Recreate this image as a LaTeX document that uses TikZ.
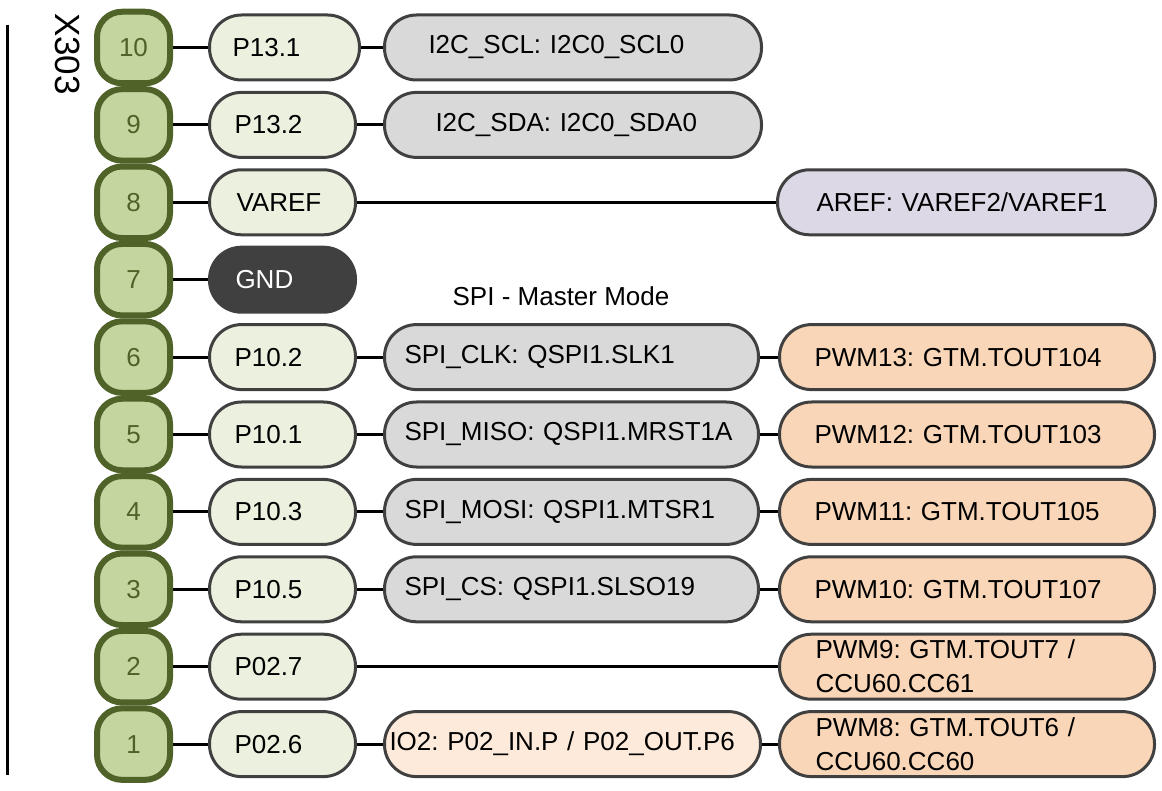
\documentclass[tikz,border=0pt]{standalone}
\usepackage{fontspec}
\setmainfont{Liberation Sans}
\frenchspacing
\definecolor{pinfill}{HTML}{C4D6A0}
\definecolor{pinedge}{HTML}{4F6228}
\definecolor{edgegray}{HTML}{404040}
\definecolor{pfill}{HTML}{EBF1DE}
\definecolor{grayfill}{HTML}{D9D9D9}
\definecolor{lavfill}{HTML}{DDD8E6}
\definecolor{pwmfill}{HTML}{FAD6B8}
\definecolor{iofill}{HTML}{FDEADA}
\definecolor{gndfill}{HTML}{404040}
\begin{document}
\begin{tikzpicture}[x=1pt,y=-1pt,
  txt/.style={font=\fontsize{26}{34}\selectfont\frenchspacing},
  pinbox/.style={draw=pinedge, fill=pinfill, line width=6pt, rounded corners=25pt,
    minimum width=73pt, minimum height=71.5pt, inner sep=0pt, text=pinedge, txt},
  pillbox/.style={draw=edgegray, line width=3pt, rounded corners=32pt, minimum height=65pt,
    inner xsep=0pt, inner ysep=0pt, align=left, anchor=west, txt},
  pbox/.style={pillbox, fill=pfill, text width=146pt},
  gbox/.style={pillbox, fill=grayfill, text width=377pt},
  abox/.style={pillbox, fill=lavfill, text width=378pt},
  wbox/.style={pillbox, fill=pwmfill, text width=375pt},
  ibox/.style={pillbox, fill=iofill, text width=376pt},
  gndbox/.style={pillbox, draw=gndfill, fill=gndfill, text=white, text width=146pt},
  conn/.style={draw=black, line width=3pt},
]
\useasboundingbox (0,0) rectangle (1162,791);

% left bar and connector label
\draw[line width=3pt] (7,25) -- (7,775);
\node[txt, font=\fontsize{35}{40}\selectfont, rotate=-90] (lbl) at (68,54) {X303};
\node[txt] (spi) at (561,296) {SPI - Master Mode};

% pins
\node[pinbox] (n10) at (133.5,47.5) {10};
\node[pinbox] (n9) at (133.5,124.9) {9};
\node[pinbox] (n8) at (133.5,202.3) {8};
\node[pinbox] (n7) at (133.5,279.7) {7};
\node[pinbox] (n6) at (133.5,357.1) {6};
\node[pinbox] (n5) at (133.5,434.5) {5};
\node[pinbox] (n4) at (133.5,511.9) {4};
\node[pinbox] (n3) at (133.5,589.3) {3};
\node[pinbox] (n2) at (133.5,666.7) {2};
\node[pinbox] (n1) at (133.5,744.1) {1};

% port boxes
\node[pbox, text width=150pt] (p10) at (208,47.5) {\hspace*{23pt}P13.1};
\node[pbox] (p9) at (208,124.9) {\hspace*{25pt}P13.2};
\node[pbox] (p8) at (208,202.3) {\hspace*{27pt}VAREF};
\node[gndbox] (p7) at (208,279.7) {\hspace*{26pt}GND};
\node[pbox] (p6) at (208,357.1) {\hspace*{25pt}P10.2};
\node[pbox] (p5) at (208,434.5) {\hspace*{25pt}P10.1};
\node[pbox] (p4) at (208,511.9) {\hspace*{25pt}P10.3};
\node[pbox] (p3) at (208,589.3) {\hspace*{25pt}P10.5};
\node[pbox] (p2) at (208,666.7) {\hspace*{25pt}P02.7};
\node[pbox] (p1) at (208,744.1) {\hspace*{25pt}P02.6};

% middle boxes
\node[gbox] (m10) at (383,47.5) {\hspace*{44pt}I2C\_SCL: I2C0\_SCL0};
\node[gbox] (m9) at (383,124.9) {\hspace*{51pt}I2C\_SDA: I2C0\_SDA0};
\node[gbox, text width=374pt] (m6) at (383,357.1) {\hspace*{20pt}SPI\_CLK: QSPI1.SLK1};
\node[gbox, text width=374pt] (m5) at (383,434.5) {\hspace*{20pt}SPI\_MISO: QSPI1.MRST1A};
\node[gbox, text width=374pt] (m4) at (383,511.9) {\hspace*{20pt}SPI\_MOSI: QSPI1.MTSR1};
\node[gbox, text width=374pt] (m3) at (383,589.3) {\hspace*{20pt}SPI\_CS: QSPI1.SLSO19};
\node[ibox] (m1) at (383,744.1) {\hspace*{5pt}IO2: P02\_IN.P / P02\_OUT.P6};

% right boxes
\node[abox] (r8) at (776,202.3) {\hspace*{39pt}AREF: VAREF2/VAREF1};
\node[wbox] (r6) at (778,357.1) {\hspace*{35pt}PWM13: GTM.TOUT104};
\node[wbox] (r5) at (778,434.5) {\hspace*{35pt}PWM12: GTM.TOUT103};
\node[wbox] (r4) at (778,511.9) {\hspace*{35pt}PWM11: GTM.TOUT105};
\node[wbox] (r3) at (778,589.3) {\hspace*{35pt}PWM10: GTM.TOUT107};
\node[wbox] (r2) at (778,666.7) {\hspace*{36pt}PWM9: GTM.TOUT7 /\\\hspace*{36pt}CCU60.CC61};
\node[wbox] (r1) at (778,744.1) {\hspace*{36pt}PWM8: GTM.TOUT6 /\\\hspace*{36pt}CCU60.CC60};

% connectors
\path[conn] (n10.east) -- (p10.west) (p10.east) -- (m10.west);
\path[conn] (n9.east) -- (p9.west) (p9.east) -- (m9.west);
\path[conn] (n8.east) -- (p8.west) (p8.east) -- (r8.west);
\path[conn] (n7.east) -- (p7.west);
\path[conn] (n6.east) -- (p6.west) (p6.east) -- (m6.west) (m6.east) -- (r6.west);
\path[conn] (n5.east) -- (p5.west) (p5.east) -- (m5.west) (m5.east) -- (r5.west);
\path[conn] (n4.east) -- (p4.west) (p4.east) -- (m4.west) (m4.east) -- (r4.west);
\path[conn] (n3.east) -- (p3.west) (p3.east) -- (m3.west) (m3.east) -- (r3.west);
\path[conn] (n2.east) -- (p2.west) (p2.east) -- (r2.west);
\path[conn] (n1.east) -- (p1.west) (p1.east) -- (m1.west) (m1.east) -- (r1.west);
\end{tikzpicture}
\end{document}
